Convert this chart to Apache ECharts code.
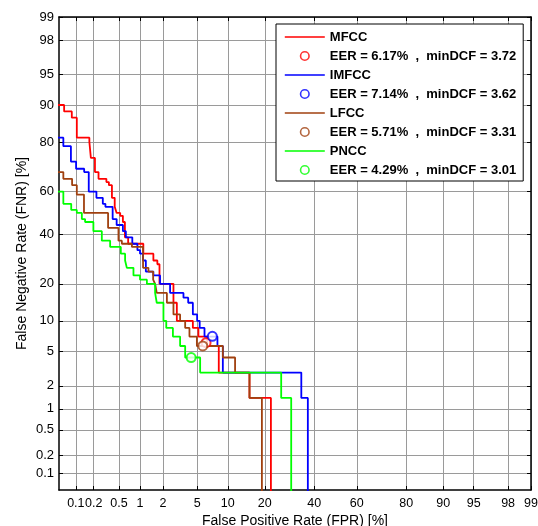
<!DOCTYPE html>
<html>
<head>
<meta charset="utf-8">
<script src="https://cdn.jsdelivr.net/npm/echarts@6/dist/echarts.min.js"></script>
<style>
html, body { margin: 0; padding: 0; background: #fff; }
#chart { width: 538px; height: 526px; }
</style>
</head>
<body>
<div id="chart"></div>
<script>
// tick labels (percent), same on both axes
const tickLabels = ['0.1', '0.2', '0.5', '1', '2', '5', '10', '20', '40', '60', '80', '90', '95', '98', '99'];
const axisMinPct = 0.05;
const axisMaxPct = 99;

// DET curves as [FPR %, FNR %] step points
const mfcc = [[0.01,90],[0.062,88.6],[0.085,87.1],[0.104,81.4],[0.17,80],[0.18,74.3],[0.21,68.6],[0.24,65.7],[0.32,64.3],[0.35,62.9],[0.39,57.1],[0.43,52.9],[0.46,50],[0.52,48.6],[0.57,45.7],[0.61,38.6],[0.68,35.7],[1.11,31.4],[1.51,28.6],[1.70,27.1],[1.81,20],[2.69,14.3],[2.95,10],[4.48,8.6],[5.14,7.1],[6.34,5.7],[8.24,2.9],[15.3,1.4],[22.1,0.01]];
const imfcc = [[0.01,81.4],[0.060,78.6],[0.082,72.9],[0.101,70],[0.139,68.6],[0.166,60],[0.222,57.1],[0.281,54.3],[0.309,52.9],[0.40,47.1],[0.46,44.3],[0.57,41.4],[0.63,38.6],[0.78,35.7],[0.92,32.9],[1.0,31.4],[1.10,28.6],[1.20,24.3],[1.51,22.9],[1.84,20],[2.45,17.1],[3.52,15.7],[3.98,14.3],[4.48,11.4],[4.98,10],[5.3,8.6],[5.95,7.1],[8.0,5.7],[9.0,2.9],[34.2,1.4],[37.1,0.01]];
const lfcc = [[0.01,68.6],[0.060,65.7],[0.086,62.9],[0.104,58.6],[0.138,50],[0.34,42.9],[0.49,37.1],[0.55,35.7],[0.77,34.3],[1.1,25.7],[1.3,24.3],[1.5,21.4],[1.59,20],[1.67,17.1],[2.24,14.3],[2.69,11.4],[3.22,10],[3.68,8.6],[4.11,7.1],[4.95,5.7],[9.0,4.3],[11.6,2.9],[15.3,1.4],[19.05,0.01]];
const pncc = [[0.01,60],[0.060,54.3],[0.083,51.4],[0.104,50],[0.127,47.1],[0.144,45.7],[0.198,41.4],[0.271,37.1],[0.366,34.3],[0.531,31.4],[0.614,28.6],[0.651,25.7],[0.81,22.9],[1.0,21.4],[1.24,20],[1.59,17.1],[1.67,14.3],[2.03,10],[2.2,8.6],[2.65,7.1],[3.22,5.7],[3.68,4.3],[5.36,2.9],[25.9,1.4],[29.9,0.01]];

const featureNames = ['MFCC', 'IMFCC', 'LFCC', 'PNCC'];
const eerValues = [6.17, 7.14, 5.71, 4.29];
const minDcfValues = [3.72, 3.62, 3.31, 3.01];

const colors = ['#ff0000', '#0000ff', '#a0400f', '#00ff00'];
const font = "'Liberation Sans', Arial, Helvetica, sans-serif";

// inverse normal CDF (Acklam)
function probit(p) {
  const a = [-3.969683028665376e+01, 2.209460984245205e+02, -2.759285104469687e+02, 1.383577518672690e+02, -3.066479806614716e+01, 2.506628277459239e+00];
  const b = [-5.447609879822406e+01, 1.615858368580409e+02, -1.556989798598866e+02, 6.680131188771972e+01, -1.328068155288572e+01];
  const c = [-7.784894002430293e-03, -3.223964580411365e-01, -2.400758277161838e+00, -2.549671464906525e+00, 4.374664141464968e+00, 2.938163982698783e+00];
  const d = [7.784695709041462e-03, 3.224671290700398e-01, 2.445134137142996e+00, 3.754408661907416e+00];
  const pl = 0.02425;
  let q, r;
  if (p < pl) {
    q = Math.sqrt(-2 * Math.log(p));
    return (((((c[0]*q+c[1])*q+c[2])*q+c[3])*q+c[4])*q+c[5]) / ((((d[0]*q+d[1])*q+d[2])*q+d[3])*q+1);
  }
  if (p <= 1 - pl) {
    q = p - 0.5; r = q * q;
    return (((((a[0]*r+a[1])*r+a[2])*r+a[3])*r+a[4])*r+a[5])*q / (((((b[0]*r+b[1])*r+b[2])*r+b[3])*r+b[4])*r+1);
  }
  q = Math.sqrt(-2 * Math.log(1 - p));
  return -(((((c[0]*q+c[1])*q+c[2])*q+c[3])*q+c[4])*q+c[5]) / ((((d[0]*q+d[1])*q+d[2])*q+d[3])*q+1);
}
const nd = pct => probit(pct / 100);

const tickVals = tickLabels.map(s => nd(parseFloat(s)));
function tickText(v) {
  let best = 0;
  for (let i = 1; i < tickVals.length; i++) {
    if (Math.abs(tickVals[i] - v) < Math.abs(tickVals[best] - v)) best = i;
  }
  return tickLabels[best];
}

function makeAxis(pos, isMain, name) {
  const horiz = pos === 'bottom' || pos === 'top';
  return {
    type: 'value',
    position: pos,
    min: nd(axisMinPct),
    max: nd(axisMaxPct),
    name: isMain ? name : '',
    nameLocation: 'middle',
    nameGap: horiz ? 24 : 30,
    nameMoveOverlap: false,
    nameTextStyle: { fontFamily: font, fontSize: 14, color: '#000' },
    axisLine: { show: true, onZero: false, lineStyle: { color: '#000', width: 1.5 } },
    axisTick: { show: true, inside: true, length: 4, customValues: tickVals, lineStyle: { color: '#000', width: 1 } },
    axisLabel: {
      show: isMain,
      customValues: tickVals,
      formatter: tickText,
      margin: horiz ? 7 : 5,
      showMinLabel: true,
      showMaxLabel: true,
      hideOverlap: false,
      fontFamily: font, fontSize: horiz ? 12.5 : 13, color: '#000'
    },
    splitLine: { show: isMain, lineStyle: { color: '#9a9a9a', width: 1 } }
  };
}

const curves = [mfcc, imfcc, lfcc, pncc];
const series = [];
const legendData = [];
// icon boxes padded with move-to points so symbols keep their natural size
const circleIcon = 'path://M0,0M40,12.4M24.25,6.2A4.25,4.25,0,1,1,15.75,6.2A4.25,4.25,0,1,1,24.25,6.2Z';
const lineIcon = 'path://M0,0M40,14M0,6.2L40,6.2L40,7.8L0,7.8Z';

featureNames.forEach((name, i) => {
  const eerName = 'EER = ' + eerValues[i].toFixed(2) + '%  ,  minDCF = ' + minDcfValues[i].toFixed(2);
  series.push({
    name: name,
    type: 'line',
    step: 'end',
    symbol: 'none',
    clip: true,
    data: curves[i].map(p => [nd(p[0]), nd(p[1])]),
    lineStyle: { color: colors[i], width: 1.8 },
    itemStyle: { color: colors[i] },
    z: 3 + i
  });
  series.push({
    name: eerName,
    type: 'scatter',
    symbol: 'emptyCircle',
    symbolSize: 9,
    data: [[nd(eerValues[i]), nd(eerValues[i])]],
    itemStyle: { color: colors[i], borderWidth: 1.5 },
    z: 10
  });
  legendData.push({
    name: name,
    icon: lineIcon,
    itemStyle: { color: colors[i], borderWidth: 0 }
  });
  legendData.push({
    name: eerName,
    icon: circleIcon,
    itemStyle: { color: '#fff', borderColor: colors[i], borderWidth: 1.6 }
  });
});

const chart = echarts.init(document.getElementById('chart'), null, { renderer: 'canvas' });
chart.setOption({
  animation: false,
  backgroundColor: '#fff',
  grid: { left: 59, top: 17, width: 472, height: 473, containLabel: false, outerBoundsMode: 'none' },
  xAxis: [makeAxis('bottom', true, 'False Positive Rate (FPR) [%]'), makeAxis('top', false, '')],
  yAxis: [makeAxis('left', true, 'False Negative Rate (FNR) [%]'), makeAxis('right', false, '')],
  legend: {
    orient: 'vertical',
    left: 276,
    top: 24,
    selectedMode: false,
    backgroundColor: '#fff',
    borderColor: '#000',
    borderWidth: 1,
    borderRadius: 0,
    padding: [6, 7, 4, 8],
    itemWidth: 40,
    itemHeight: 14,
    itemGap: 5,
    textStyle: { fontFamily: font, fontSize: 13, lineHeight: 14, fontWeight: 'bold', color: '#000' },
    data: legendData
  },
  series: series
});
</script>
</body>
</html>
